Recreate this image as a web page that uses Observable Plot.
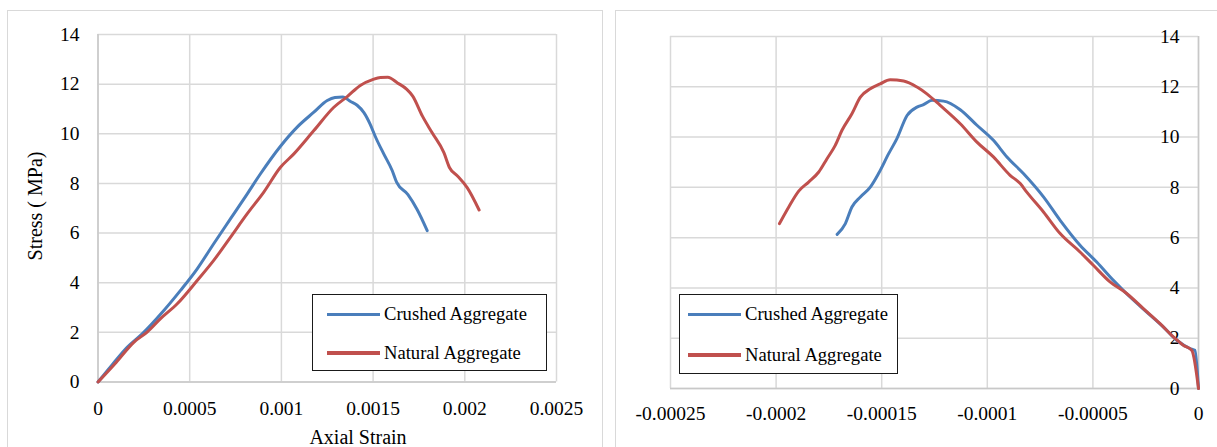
<!DOCTYPE html>
<html><head><meta charset="utf-8">
<script src="https://cdn.jsdelivr.net/npm/d3@7"></script>
<script src="https://cdn.jsdelivr.net/npm/@observablehq/plot@0.6"></script>
<style>
body{margin:0;background:#fff;width:1217px;height:447px;overflow:hidden;position:relative;font-family:"Liberation Serif","Tinos","Times New Roman","DejaVu Serif",serif;color:#000;}
.panel{position:absolute;border:1.5px solid #d9d9d9;box-sizing:border-box;pointer-events:none;}
.chart{position:absolute;top:0;}
.chart svg{display:block;}
.chart svg text{font-family:"Liberation Serif","Tinos","Times New Roman","DejaVu Serif",serif;}
.legend{position:absolute;background:#fff;border:1px solid #1a1a1a;box-sizing:border-box;}
.sw{position:absolute;height:3.5px;}
.lt{position:absolute;font-size:18.6px;line-height:1;white-space:nowrap;transform:translateY(-50%);}
.title{position:absolute;font-size:20px;white-space:nowrap;line-height:1;}
</style></head>
<body>
<div id="left" class="chart" style="left:0"></div>
<div id="right" class="chart" style="left:608px"></div>
<div class="panel" style="left:7px;top:10px;width:596px;height:460px"></div>
<div class="panel" style="left:615px;top:10px;width:620px;height:460px"></div>

<div class="title" style="left:358px;top:437px;transform:translate(-50%,-50%)">Axial Strain</div>
<div class="title" style="left:35px;top:206px;transform:translate(-50%,-50%) rotate(-90deg)">Stress ( MPa)</div>

<div class="legend" style="left:312px;top:294px;width:235px;height:77px">
  <div class="sw" style="left:14px;width:53px;top:17.5px;background:#4a7ebb"></div>
  <div class="lt" style="left:71px;top:19px">Crushed Aggregate</div>
  <div class="sw" style="left:14px;width:53px;top:56px;background:#c0504d"></div>
  <div class="lt" style="left:71px;top:57.5px">Natural Aggregate</div>
</div>
<div class="legend" style="left:679px;top:294px;width:219px;height:80px">
  <div class="sw" style="left:8px;width:53px;top:17.5px;background:#4a7ebb"></div>
  <div class="lt" style="left:65px;top:19px">Crushed Aggregate</div>
  <div class="sw" style="left:8px;width:53px;top:58px;background:#c0504d"></div>
  <div class="lt" style="left:65px;top:59.5px">Natural Aggregate</div>
</div>

<script>
// ---- Data ----
const seriesNames = ["Crushed Aggregate", "Natural Aggregate"];
const seriesColors = ["#4a7ebb", "#c0504d"];

const yTicks = [0, 2, 4, 6, 8, 10, 12, 14];
const yTickLabels = ["0", "2", "4", "6", "8", "10", "12", "14"];

const xTicksLeft = [0, 0.0005, 0.001, 0.0015, 0.002, 0.0025];
const xTickLabelsLeft = ["0", "0.0005", "0.001", "0.0015", "0.002", "0.0025"];

const xTicksRight = [-0.00025, -0.0002, -0.00015, -0.0001, -0.00005, 0];
const xTickLabelsRight = ["-0.00025", "-0.0002", "-0.00015", "-0.0001", "-0.00005", "0"];

// Left panel: axial strain
const crushedAxialStrain = [0, 0.00008, 0.000159, 0.000241, 0.000359, 0.00045, 0.000541, 0.000631, 0.000722, 0.000814, 0.000886, 0.000995, 0.001086, 0.001177, 0.00125, 0.001292, 0.001335, 0.001377, 0.001413, 0.00145, 0.001483, 0.001515, 0.001558, 0.001604, 0.001628, 0.00169, 0.00174, 0.001795];
const crushedAxialStress = [0, 0.72, 1.40, 1.94, 2.88, 3.69, 4.56, 5.57, 6.57, 7.58, 8.39, 9.50, 10.27, 10.87, 11.34, 11.46, 11.48, 11.30, 11.15, 10.85, 10.40, 9.84, 9.19, 8.52, 8.05, 7.55, 6.95, 6.10];

const naturalAxialStrain = [0, 0.0001, 0.000195, 0.000268, 0.000341, 0.000432, 0.000541, 0.000631, 0.000722, 0.000814, 0.000904, 0.000995, 0.001068, 0.001177, 0.001286, 0.001359, 0.00143, 0.001497, 0.00154, 0.00158, 0.001633, 0.001684, 0.001716, 0.001769, 0.001822, 0.001886, 0.001917, 0.00196, 0.002013, 0.002078];
const naturalAxialStress = [0, 0.80, 1.60, 2.01, 2.55, 3.15, 4.09, 4.90, 5.83, 6.78, 7.65, 8.65, 9.19, 10.13, 11.07, 11.50, 11.95, 12.18, 12.27, 12.28, 12.05, 11.79, 11.52, 10.71, 10.04, 9.24, 8.63, 8.30, 7.83, 6.93];

// Right panel: lateral strain
const crushedLateralStrain = [-0.0001711, -0.0001672, -0.0001641, -0.0001601, -0.0001554, -0.0001515, -0.0001467, -0.0001428, -0.000138, -0.0001333, -0.0001302, -0.0001262, -0.0001207, -0.0001128, -0.0001049, -0.0000971, -0.0000907, -0.0000829, -0.0000734, -0.0000655, -0.0000561, -0.0000482, -0.0000403, -0.0000324, -0.0000245, -0.0000167, -0.0000103, -0.000004, -0.0000017, 0];
const crushedLateralStress = [6.13, 6.56, 7.22, 7.62, 8.01, 8.55, 9.34, 9.94, 10.86, 11.19, 11.29, 11.46, 11.43, 11.09, 10.47, 9.87, 9.21, 8.55, 7.62, 6.69, 5.70, 5.03, 4.30, 3.64, 3.04, 2.45, 1.92, 1.59, 1.52, 0];

const naturalLateralStrain = [-0.0001984, -0.000194, -0.0001893, -0.0001846, -0.0001798, -0.0001759, -0.000172, -0.0001688, -0.0001641, -0.0001601, -0.0001554, -0.0001507, -0.000146, -0.0001396, -0.0001333, -0.0001286, -0.0001223, -0.0001128, -0.0001049, -0.0000971, -0.0000892, -0.0000844, -0.0000813, -0.0000734, -0.0000655, -0.0000561, -0.0000498, -0.0000419, -0.000034, -0.0000261, -0.0000182, -0.0000119, -0.0000072, -0.0000032, 0];
const naturalLateralStress = [6.56, 7.22, 7.85, 8.21, 8.61, 9.14, 9.67, 10.27, 10.93, 11.59, 11.92, 12.12, 12.28, 12.23, 11.99, 11.72, 11.26, 10.53, 9.80, 9.21, 8.48, 8.15, 7.81, 7.02, 6.16, 5.43, 4.90, 4.24, 3.78, 3.18, 2.58, 2.05, 1.72, 1.52, 0];

// ---- Build tables ----
const toRows = (xs, ys, s) => xs.map((x, i) => ({x, y: ys[i], series: s}));
const leftRows = [
  ...toRows(crushedAxialStrain, crushedAxialStress, seriesNames[0]),
  ...toRows(naturalAxialStrain, naturalAxialStress, seriesNames[1])
];
const rightRows = [
  ...toRows(crushedLateralStrain, crushedLateralStress, seriesNames[0]),
  ...toRows(naturalLateralStrain, naturalLateralStress, seriesNames[1])
];

const fmt = (ticks, labels) => { const m = new Map(ticks.map((t, i) => [t, labels[i]])); return d => m.get(d) ?? String(d); };
const gridStyle = {stroke: "#d9d9d9", strokeOpacity: 1, strokeWidth: 1.5};
const font = {fontFamily: "'Liberation Serif', 'Tinos', 'Times New Roman', 'DejaVu Serif', serif", fontSize: "19.5px", color: "#000", background: "transparent", overflow: "visible"};

const lineMarks = (rows) => seriesNames.map((s, i) =>
  Plot.line(rows.filter(r => r.series === s), {x: "x", y: "y", curve: "monotone-x", stroke: seriesColors[i], strokeWidth: 3, strokeLinejoin: "round", strokeLinecap: "round"}));

const left = Plot.plot({
  width: 608, height: 447,
  marginLeft: 97.5, marginRight: 52, marginTop: 34, marginBottom: 65.5,
  style: font,
  x: {domain: [0, 0.0025]},
  y: {domain: [0, 14]},
  marks: [
    Plot.gridX(xTicksLeft, gridStyle),
    Plot.gridY(yTicks, gridStyle),
    Plot.ruleX([0], {stroke: "#c8c8c8", strokeWidth: 1.5}),
    Plot.ruleY([0], {stroke: "#c8c8c8", strokeWidth: 1.5}),
    Plot.axisX(xTicksLeft, {tickSize: 0, tickPadding: 19, tickFormat: fmt(xTicksLeft, xTickLabelsLeft), label: null, fill: "#000"}),
    Plot.axisY(yTicks, {tickSize: 0, tickPadding: 18.5, tickFormat: fmt(yTicks, yTickLabels), label: null, fill: "#000"}),
    ...lineMarks(leftRows)
  ]
});
document.getElementById("left").append(left);

const right = Plot.plot({
  width: 609, height: 447,
  marginLeft: 62, marginRight: 19, marginTop: 36, marginBottom: 59,
  style: font,
  x: {domain: [-0.00025, 0]},
  y: {domain: [0, 14]},
  marks: [
    Plot.gridX(xTicksRight, gridStyle),
    Plot.gridY(yTicks, gridStyle),
    Plot.ruleX([0], {stroke: "#c8c8c8", strokeWidth: 1.5}),
    Plot.ruleY([0], {stroke: "#c8c8c8", strokeWidth: 1.5}),
    Plot.axisX(xTicksRight, {tickSize: 0, tickPadding: 17.3, tickFormat: fmt(xTicksRight, xTickLabelsRight), label: null, fill: "#000"}),
    Plot.axisY(yTicks, {anchor: "right", tickSize: 0, tickPadding: 0, dx: -19, textAnchor: "end", tickFormat: fmt(yTicks, yTickLabels), label: null, fill: "#000"}),
    ...lineMarks(rightRows)
  ]
});
document.getElementById("right").append(right);
</script>
</body></html>
